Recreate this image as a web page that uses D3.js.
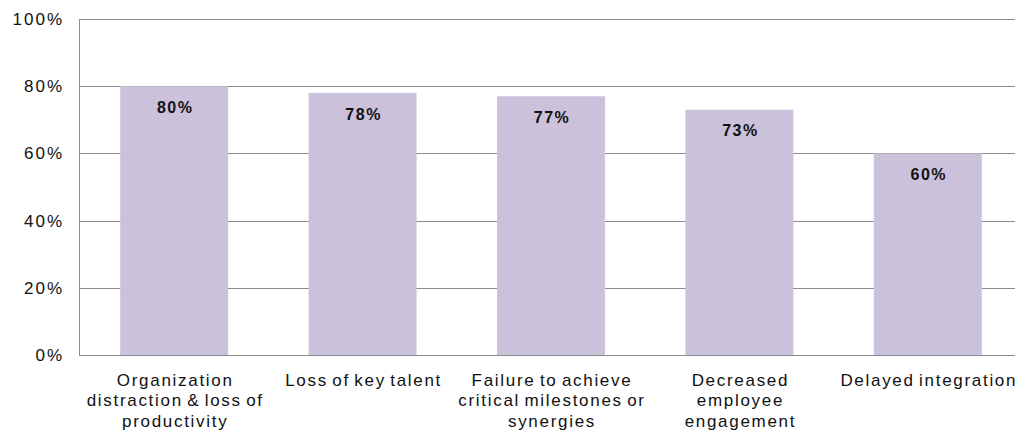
<!DOCTYPE html>
<html>
<head>
<meta charset="utf-8">
<script src="https://cdn.jsdelivr.net/npm/d3@7"></script>
<style>
  body { margin: 0; background: #fff; }
  svg { display: block; font-family: "Liberation Sans", Arial, sans-serif; }
</style>
</head>
<body>
<script>
// data
const categories = [
  "Organization distraction & loss of productivity",
  "Loss of key talent",
  "Failure to achieve critical milestones or synergies",
  "Decreased employee engagement",
  "Delayed integration"
];
const labelLines = [
  ["Organization", "distraction & loss of", "productivity"],
  ["Loss of key talent"],
  ["Failure to achieve", "critical milestones or", "synergies"],
  ["Decreased", "employee", "engagement"],
  ["Delayed integration"]
];
const values = [80, 78, 77, 73, 60];
const yTicks = [0, 20, 40, 60, 80, 100];

const width = 1015, height = 432;
const margin = {top: 19, left: 80, bottom: 77};

const svg = d3.select("body").append("svg")
  .attr("width", width)
  .attr("height", height);

const x = d3.scaleBand()
  .domain(categories)
  .range([margin.left, 1022])
  .paddingInner(0.427)
  .paddingOuter(0.2135);

const y = d3.scaleLinear()
  .domain([0, 100])
  .range([height - margin.bottom, margin.top]);

// gridlines
svg.append("g")
  .selectAll("line")
  .data(yTicks)
  .join("line")
  .attr("x1", margin.left)
  .attr("x2", width)
  .attr("y1", d => Math.round(y(d)) + 0.5)
  .attr("y2", d => Math.round(y(d)) + 0.5)
  .attr("stroke", "#8c8c8c")
  .attr("stroke-width", 1);

// left axis line
svg.append("line")
  .attr("x1", margin.left - 0.5).attr("x2", margin.left - 0.5)
  .attr("y1", Math.round(y(100))).attr("y2", Math.round(y(0)) + 1)
  .attr("stroke", "#8c8c8c");

// y tick labels
svg.append("g")
  .selectAll("text")
  .data(yTicks)
  .join("text")
  .attr("x", 64)
  .attr("y", d => y(d))
  .attr("dy", "0.35em")
  .attr("text-anchor", "end")
  .attr("font-size", 17)
  .attr("letter-spacing", 2)
  .attr("fill", "#111")
  .text(d => d + "%");

// bars
svg.append("g")
  .selectAll("rect")
  .data(values)
  .join("rect")
  .attr("x", (d, i) => x(categories[i]))
  .attr("width", x.bandwidth())
  .attr("y", d => y(d))
  .attr("height", d => y(0) - y(d))
  .attr("fill", "#cbc1db");

// bottom line over bars
svg.append("line")
  .attr("x1", margin.left).attr("x2", width)
  .attr("y1", Math.round(y(0)) + 0.5).attr("y2", Math.round(y(0)) + 0.5)
  .attr("stroke", "#8c8c8c");

// value labels
svg.append("g")
  .selectAll("text")
  .data(values)
  .join("text")
  .attr("x", (d, i) => x(categories[i]) + x.bandwidth() / 2 + 1)
  .attr("y", d => y(d) + 21)
  .attr("dy", "0.35em")
  .attr("text-anchor", "middle")
  .attr("font-size", 16)
  .attr("font-weight", "bold")
  .attr("letter-spacing", 1.5)
  .attr("fill", "#111")
  .text(d => d + "%");

// category labels
const cat = svg.append("g")
  .selectAll("text")
  .data(labelLines)
  .join("text")
  .attr("text-anchor", "middle")
  .attr("font-size", 17)
  .attr("letter-spacing", 1.7)
  .attr("word-spacing", -2)
  .attr("fill", "#111");

cat.selectAll("tspan")
  .data((d, i) => d.map(t => ({t, i})))
  .join("tspan")
  .attr("x", d => x(categories[d.i]) + x.bandwidth() / 2 + 1)
  .attr("y", (d, j) => 385.5 + j * 20.5)
  .text(d => d.t);
</script>
</body>
</html>
